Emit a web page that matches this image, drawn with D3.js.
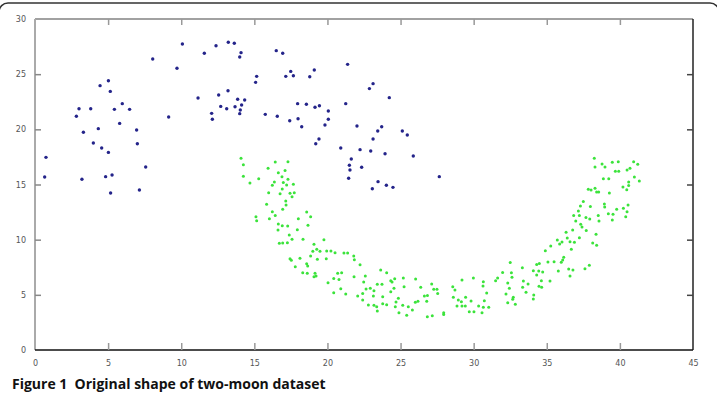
<!DOCTYPE html>
<html>
<head>
<meta charset="utf-8">
<script src="https://cdn.jsdelivr.net/npm/d3@7"></script>
<style>
  body { margin: 0; background: #fff; overflow: hidden; }
  svg { display: block; }
</style>
</head>
<body>
<div id="chart"></div>
<script>
// upper moon (blue)
var bluePoints = [
  [10.08,27.73],[12.38,27.58],[13.22,27.89],[13.63,27.8],[8.05,26.38],[11.58,26.89],[9.71,25.53],
  [4.45,23.96],[5.02,24.41],[5.15,23.44],[5.97,22.33],[3.01,21.87],[3.81,21.87],[5.43,21.81],
  [6.47,21.81],[2.83,21.18],[9.14,21.12],[11.15,22.84],[12.56,23.11],[13.2,23.5],[12.7,22.08],
  [13.11,21.87],[13.68,22.05],[12.08,21.45],[12.13,20.91],[5.79,20.54],[4.33,20.06],[6.95,19.94],
  [3.31,19.73],[3.99,18.76],[7.0,18.7],[4.56,18.31],[5.02,17.91],[0.75,17.46],[7.57,16.59],
  [0.66,15.68],[3.21,15.47],[4.83,15.71],[5.27,15.86],[5.17,14.23],[7.14,14.5],
  [14.09,26.95],[14.0,26.56],[16.5,27.13],[16.94,26.89],[15.16,24.8],[15.09,24.26],[17.49,25.25],
  [17.15,24.8],[17.67,24.86],[19.1,25.38],[18.79,24.77],[21.38,25.89],[23.12,24.14],[22.87,23.69],
  [24.23,22.87],[13.86,22.72],[14.34,22.66],[14.13,22.2],[14.04,21.75],[14.0,21.42],[17.96,22.33],
  [18.56,22.27],[19.15,22.0],[19.45,22.14],[20.06,21.66],[21.25,22.33],[15.75,21.36],[16.57,21.18],
  [17.42,20.78],[17.99,20.96],[18.24,20.24],[20.06,20.91],[19.83,20.39],[22.02,20.3],[23.71,20.24],
  [23.44,19.85],[25.12,19.85],[25.46,19.49],[19.42,19.12],[19.2,18.7],[23.12,19.12],[20.91,18.31],
  [22.23,18.16],[22.96,18.04],[23.94,17.79],[25.87,17.58],[21.63,17.31],[21.5,16.74],[22.34,16.56],
  [21.54,16.31],[21.45,15.56],[23.46,15.26],[24.03,14.93],[24.48,14.74],[23.07,14.62],[27.65,15.71]
];

// lower moon (green)
var greenPoints = [
  [14.09,17.37],[14.25,16.8],[14.25,15.74],[14.7,15.14],[15.3,15.53],[16.43,17.04],[17.3,17.07],
  [15.94,16.47],[16.64,16.07],[17.1,16.28],[16.89,15.71],[17.3,15.47],[16.37,15.23],[16.23,14.93],
  [16.98,15.17],[17.67,15.02],[17.21,14.96],[15.98,14.26],[16.91,14.59],[16.76,14.17],[17.44,14.2],
  [17.58,13.9],[17.73,14.26],[17.15,13.5],[17.17,13.14],[15.84,13.2],[16.23,12.54],[16.94,12.75],
  [16.43,12.2],[15.11,12.08],[15.16,11.72],[16.03,11.9],[18.58,12.51],[18.85,12.08],[18.01,11.9],
  [16.64,11.42],[16.91,11.27],[17.28,11.24],[16.62,10.88],[18.67,11.3],[17.94,10.91],[17.39,10.42],
  [17.58,10.03],[16.71,9.67],[16.94,9.7],[17.26,9.73],[18.33,10.03],[19.76,10.0],[19.08,9.58],
  [19.27,9.13],[19.0,8.95],[19.49,8.95],[19.95,8.97],[20.24,8.97],[20.52,8.82],[21.13,8.79],
  [21.38,8.79],[18.85,8.52],[19.31,8.22],[17.44,8.28],[17.53,8.13],[18.12,8.31],[19.92,8.28],
  [21.8,8.52],[21.84,8.19],[17.8,7.55],[18.58,7.82],[18.65,7.61],[18.31,7.0],[18.62,6.95],
  [19.15,6.95],[19.22,6.7],[19.08,6.64],[20.7,6.95],[20.97,7.0],[22.23,7.73],[23.64,7.25],
  [24.05,7.0],[20.43,6.49],[20.79,6.4],[20.04,6.1],[21.82,6.64],[22.59,6.7],[23.41,5.95],
  [23.73,5.95],[22.48,6.16],[20.91,5.56],[20.43,5.19],[21.25,5.08],[22.07,4.89],[22.41,5.13],
  [22.64,5.53],[22.93,5.59],[23.18,5.38],[23.14,4.89],[22.41,4.53],[22.8,4.08],[23.78,4.83],
  [24.33,5.29],[24.6,6.46],[23.37,3.93],[23.18,4.05],[24.05,4.11],[24.69,4.35],[24.64,3.93],
  [24.33,6.28],[24.85,4.68],[23.41,3.53],[24.89,3.38],[23.78,4.2],
  [24.42,6.16],[25.19,6.53],[26.03,6.44],[27.13,5.98],[29.2,6.34],[29.98,6.53],[24.55,5.59],
  [25.24,5.74],[26.38,5.68],[27.27,5.5],[27.49,5.5],[27.54,5.13],[28.57,5.74],[28.72,5.44],
  [30.66,6.19],[30.64,5.8],[26.63,4.89],[26.84,4.95],[26.01,4.32],[26.19,4.41],[26.79,4.41],
  [25.15,4.05],[25.53,3.93],[25.81,3.63],[25.42,3.14],[26.83,3.02],[27.17,3.11],[27.95,3.38],
  [27.95,3.22],[28.61,4.77],[28.95,4.53],[29.16,4.38],[28.86,3.99],[29.2,3.99],[29.45,4.77],
  [29.43,3.99],[29.82,4.44],[30.34,3.99],[29.7,3.47],[30.02,3.47],[30.66,3.87],[31.03,3.87],
  [30.73,4.47],[30.57,3.38],[30.89,5.17],[31.5,6.28],[31.64,6.53],[31.98,7.03],[32.5,7.94],
  [32.58,7.01],[32.62,6.59],[32.33,6.07],[32.44,5.59],[32.21,5.08],[32.71,4.77],[32.67,4.59],
  [32.33,4.29],[32.85,4.14],[33.33,7.46],[33.4,6.25],[33.35,5.68],[33.58,5.23],[33.72,5.98],
  [34.08,7.19],[34.11,4.99],[34.08,4.62],[34.31,7.76],[34.49,7.85],[34.45,7.16],[34.72,7.07],
  [34.31,6.8],[34.63,6.28],[34.47,5.77],[34.65,5.68],[34.9,9.0],[35.27,9.43],[35.08,7.98],
  [35.5,8.0],[35.22,6.25],[35.72,9.97],[35.79,7.16],
  [38.25,17.37],[38.3,16.59],[38.78,16.86],[38.98,16.59],[39.48,17.01],[39.89,17.07],[40.94,17.07],
  [41.22,16.83],[39.69,16.2],[39.92,16.2],[40.49,16.31],[40.69,16.47],[38.87,15.53],[39.24,15.53],
  [40.99,15.68],[41.33,15.32],[40.6,15.23],[40.6,14.9],[40.21,14.78],[40.47,14.53],[37.84,14.56],
  [38.03,14.5],[38.3,14.65],[38.41,14.32],[38.55,14.32],[39.28,14.23],[37.5,13.45],[37.3,13.05],
  [37.98,13.0],[38.94,13.23],[38.96,12.96],[39.78,12.75],[40.24,12.84],[40.56,13.14],[40.49,12.54],
  [40.4,12.08],[39.21,12.36],[39.53,12.3],[39.48,11.78],[37.16,12.6],[36.84,12.18],[37.23,12.18],
  [37.68,12.0],[37.94,11.87],[38.52,12.18],[38.57,11.69],[36.98,11.69],[37.32,11.39],[37.41,11.15],
  [36.77,10.88],[37.7,10.82],[36.32,10.67],[38.37,10.49],[36.4,10.15],[37.23,10.18],[35.88,9.61],
  [36.04,9.79],[36.59,9.82],[36.89,9.76],[38.14,9.7],[38.41,9.49],[36.68,9.13],[36.16,8.4],
  [36.09,8.16],[35.99,7.95],[37.91,7.68],[37.61,7.37],[36.5,7.34],[36.79,7.25],[36.59,6.7]
];

var xTicks = [0, 5, 10, 15, 20, 25, 30, 35, 40, 45];
var yTicks = [0, 5, 10, 15, 20, 25, 30];
var caption = "Figure 1  Original shape of two-moon dataset";

var width = 717, height = 394;
var margin = {top: 19, right: 24, bottom: 44, left: 35};
var plotW = width - margin.left - margin.right;
var plotH = height - margin.top - margin.bottom;

var svg = d3.select("#chart").append("svg")
  .attr("width", width)
  .attr("height", height);

// figure frame (only the top corners show)
svg.append("rect")
  .attr("x", -1).attr("y", 3)
  .attr("width", 720).attr("height", 430)
  .attr("rx", 9)
  .attr("fill", "none")
  .attr("stroke", "#333")
  .attr("stroke-width", 1.5);

var g = svg.append("g")
  .attr("transform", `translate(${margin.left},${margin.top})`);

var x = d3.scaleLinear().domain([0, 45]).range([0, plotW]);
var y = d3.scaleLinear().domain([0, 30]).range([plotH, 0]);

// axes: ticks point inward like matlab
var bottomAxis = d3.axisBottom(x).tickValues(xTicks).tickSize(-7).tickPadding(10);
var topAxis = d3.axisTop(x).tickValues(xTicks).tickSize(-6).tickFormat("");
var leftAxis = d3.axisLeft(y).tickValues(yTicks).tickSize(-6).tickPadding(9);
var rightAxis = d3.axisRight(y).tickValues(yTicks).tickSize(-6).tickFormat("");

function styleAxis(sel, lineColor, tickColor, lineW) {
  sel.select(".domain").attr("stroke", lineColor).attr("stroke-width", lineW);
  sel.selectAll(".tick line").attr("stroke", tickColor).attr("stroke-width", 1.5);
  sel.selectAll(".tick text")
    .attr("fill", "#555")
    .style("font-family", "DejaVu Sans, sans-serif")
    .style("font-size", "8px");
}

var gTop = g.append("g").call(topAxis);
styleAxis(gTop, "#444", "#999", 1.2);
var gRight = g.append("g").attr("transform", `translate(${plotW},0)`).call(rightAxis);
styleAxis(gRight, "#222", "#444", 1.5);
var gLeft = g.append("g").call(leftAxis);
styleAxis(gLeft, "#aaa", "#888", 2);
var gBottom = g.append("g").attr("transform", `translate(0,${plotH})`).call(bottomAxis);
styleAxis(gBottom, "#111", "#999", 1.5);
// hide tick marks at ends that sit on the frame
gBottom.selectAll(".tick").filter(d => d === 0 || d === 45).select("line").remove();
gTop.selectAll(".tick").filter(d => d === 0 || d === 45).select("line").remove();
gLeft.selectAll(".tick").filter(d => d === 0 || d === 30).select("line").remove();
gRight.selectAll(".tick").filter(d => d === 0 || d === 30).select("line").remove();
gLeft.selectAll(".domain").attr("d", `M0,${plotH}V0`);
gBottom.selectAll(".domain").attr("d", `M0,0H${plotW}`);
gTop.selectAll(".domain").attr("d", `M0,0H${plotW}`);
gRight.selectAll(".domain").attr("d", `M0,0V${plotH}`);

// points
g.selectAll("circle.green")
  .data(greenPoints)
  .enter().append("circle")
  .attr("class", "green")
  .attr("cx", d => x(d[0]))
  .attr("cy", d => y(d[1]))
  .attr("r", 1.5)
  .attr("fill", "#3be33b");

g.selectAll("circle.blue")
  .data(bluePoints)
  .enter().append("circle")
  .attr("class", "blue")
  .attr("cx", d => x(d[0]))
  .attr("cy", d => y(d[1]))
  .attr("r", 1.7)
  .attr("fill", "#24248a");

svg.append("text")
  .attr("x", 12)
  .attr("y", 389)
  .attr("font-family", "Open Sans, sans-serif")
  .attr("font-weight", "bold")
  .attr("font-size", "14px")
  .attr("fill", "#111")
  .style("white-space", "pre")
  .text(caption);
</script>
</body>
</html>
